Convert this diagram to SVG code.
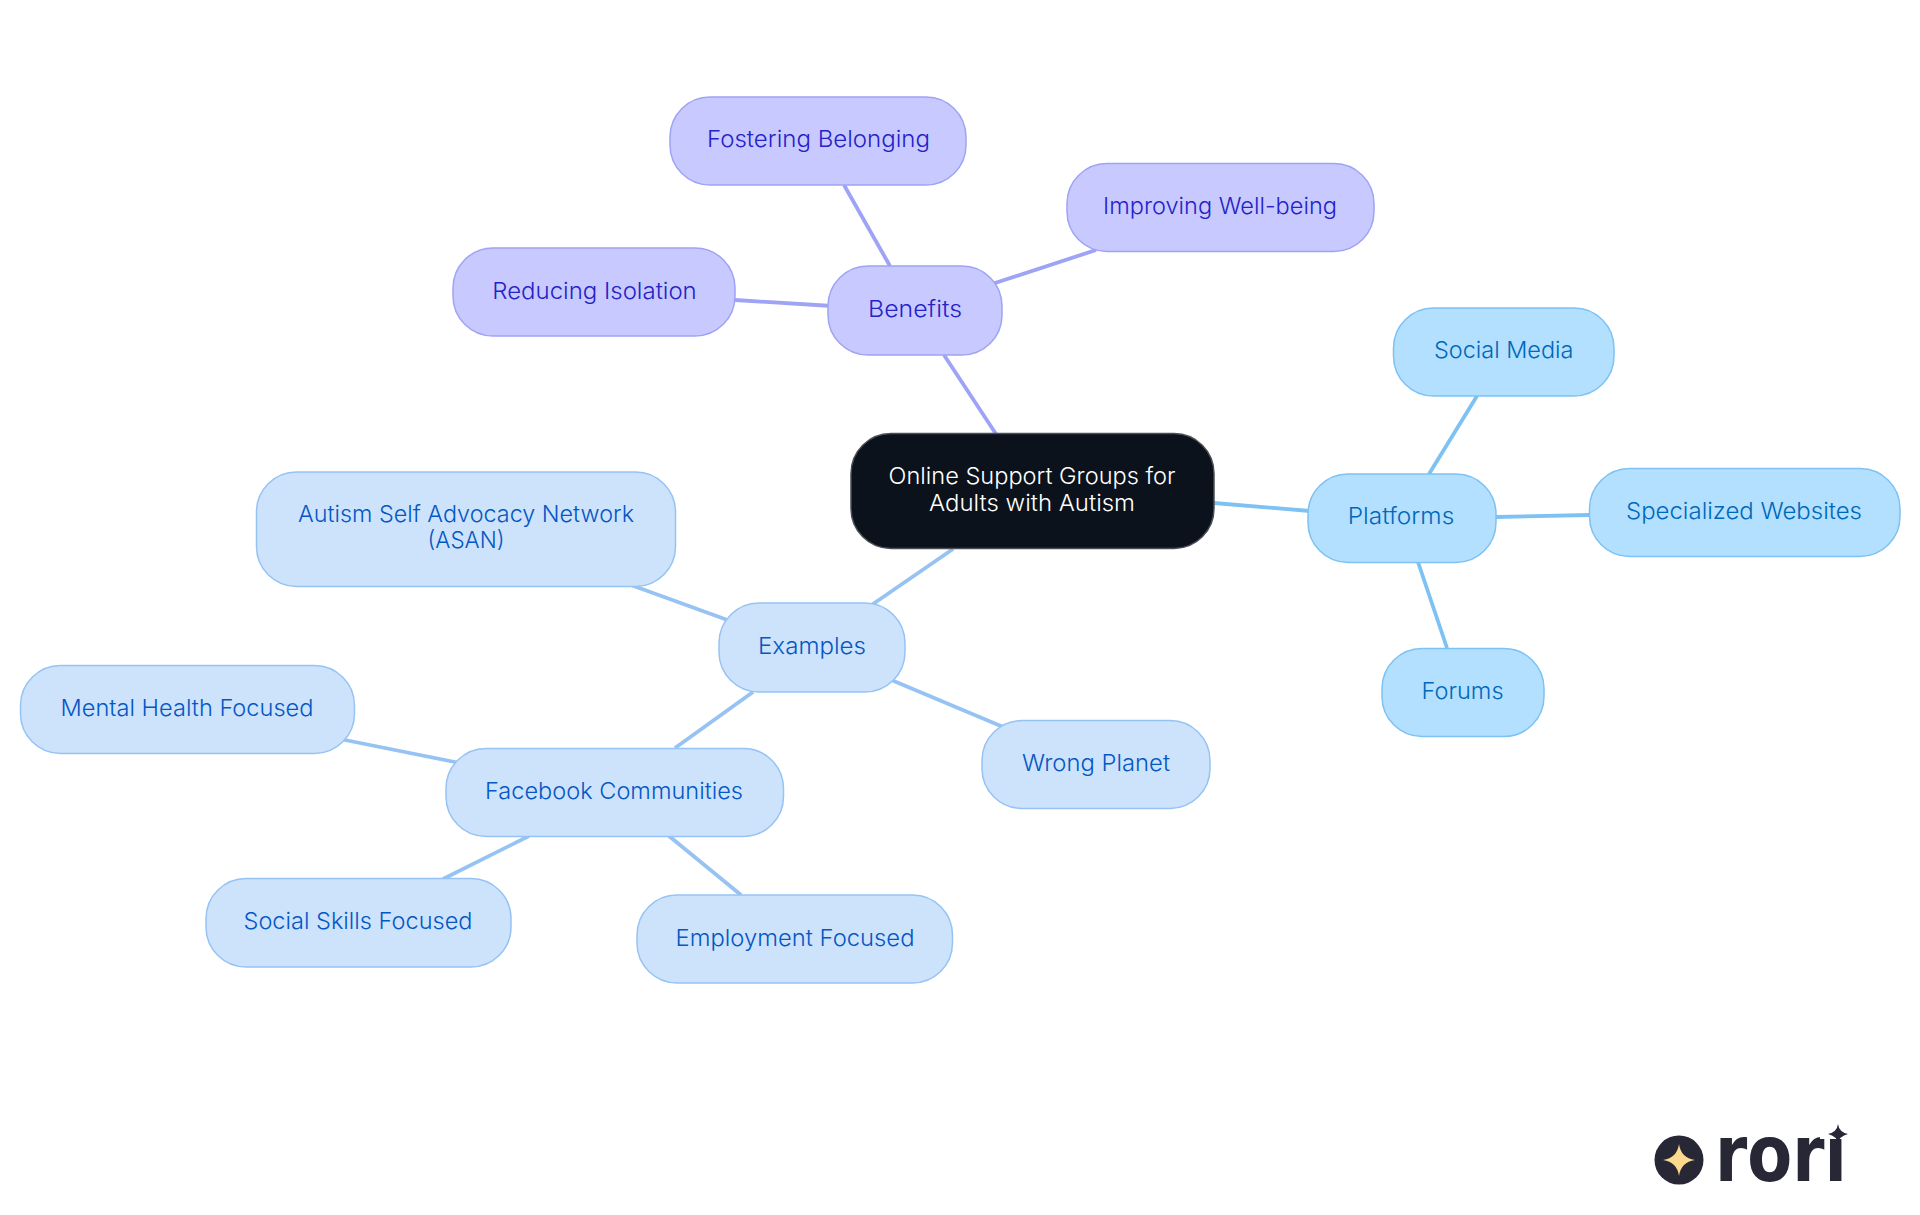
<svg xmlns="http://www.w3.org/2000/svg" width="1920" height="1215" viewBox="0 0 1920 1215">
<style>
text{font-family:"Inter","Noto Sans","Liberation Sans",sans-serif;font-size:23.2px;text-anchor:middle;font-weight:300}
#connectors line{stroke-width:3.8;fill:none}
.p line{stroke:#7ec1f3}.b line{stroke:#9ea3f5}.e line{stroke:#96c3f3}
rect{stroke-width:1.5}
.P rect{fill:#b3e0ff;stroke:#7ec1f3}.P text{fill:#0068ba}
.B rect{fill:#c8caff;stroke:#9ea3f5}.B text{fill:#2522c8}
.E rect{fill:#cde3fc;stroke:#96c3f3}.E text{fill:#0557c4}
</style>
<rect width="1920" height="1215" fill="#fff" stroke="none"/>
<g id="connectors">
<g class="b">
<line x1="944" y1="355" x2="996" y2="434"/><line x1="844" y1="185" x2="890" y2="266"/><line x1="1096" y1="250" x2="992" y2="284"/><line x1="735" y1="300" x2="832" y2="306"/>
</g>
<g class="p">
<line x1="1214" y1="503" x2="1310" y2="511"/><line x1="1477" y1="396" x2="1429" y2="474"/><line x1="1496" y1="517" x2="1589" y2="515"/><line x1="1418" y1="562" x2="1447" y2="648"/>
</g>
<g class="e">
<line x1="953" y1="549" x2="873" y2="604"/><line x1="631" y1="585" x2="733" y2="622"/><line x1="889" y1="679" x2="1008" y2="729"/><line x1="753" y1="692" x2="675" y2="748"/><line x1="340" y1="739" x2="460" y2="763"/><line x1="529" y1="836" x2="443" y2="879"/><line x1="669" y1="836" x2="741" y2="895"/>
</g>
</g>
<g id="root"><rect x="851" y="433.500" width="363" height="115" rx="40" fill="#0b121b" stroke="#4a4f56"/><text x="1032" y="484" fill="#fff" textLength="287" lengthAdjust="spacingAndGlyphs">Online Support Groups for</text><text x="1032" y="511" fill="#fff" textLength="206" lengthAdjust="spacingAndGlyphs">Adults with Autism</text></g>
<g id="benefits" class="B"><rect x="828" y="266" width="174" height="89" rx="40"/><text x="915" y="317" textLength="94" lengthAdjust="spacingAndGlyphs">Benefits</text></g>
<g id="fostering" class="B"><rect x="670" y="97" width="296" height="88" rx="40"/><text x="818.500" y="147" textLength="223" lengthAdjust="spacingAndGlyphs">Fostering Belonging</text></g>
<g id="improving" class="B"><rect x="1067" y="163.500" width="307" height="88" rx="40"/><text x="1220" y="214" textLength="234" lengthAdjust="spacingAndGlyphs">Improving Well-being</text></g>
<g id="reducing" class="B"><rect x="453" y="248" width="282" height="88" rx="40"/><text x="594.500" y="299" textLength="204.500" lengthAdjust="spacingAndGlyphs">Reducing Isolation</text></g>
<g id="platforms" class="P"><rect x="1308" y="474" width="188" height="88.500" rx="40"/><text x="1401" y="524" textLength="106.500" lengthAdjust="spacingAndGlyphs">Platforms</text></g>
<g id="social-media" class="P"><rect x="1393.500" y="308" width="220.500" height="88" rx="40"/><text x="1503.700" y="358" textLength="139.600" lengthAdjust="spacingAndGlyphs">Social Media</text></g>
<g id="websites" class="P"><rect x="1589.500" y="468.500" width="310.500" height="88" rx="40"/><text x="1744" y="519" textLength="236" lengthAdjust="spacingAndGlyphs">Specialized Websites</text></g>
<g id="forums" class="P"><rect x="1382" y="648.500" width="162" height="88" rx="40"/><text x="1462.600" y="699" textLength="82" lengthAdjust="spacingAndGlyphs">Forums</text></g>
<g id="examples" class="E"><rect x="719" y="603" width="186" height="89" rx="40"/><text x="812" y="654" textLength="108" lengthAdjust="spacingAndGlyphs">Examples</text></g>
<g id="asan" class="E"><rect x="256.500" y="472" width="419" height="114.500" rx="40"/><text x="466" y="522" textLength="336" lengthAdjust="spacingAndGlyphs">Autism Self Advocacy Network</text><text x="466" y="548" textLength="77" lengthAdjust="spacingAndGlyphs">(ASAN)</text></g>
<g id="wrong-planet" class="E"><rect x="982" y="720.500" width="228" height="88" rx="40"/><text x="1096" y="771" textLength="148" lengthAdjust="spacingAndGlyphs">Wrong Planet</text></g>
<g id="facebook" class="E"><rect x="446" y="748.500" width="337.500" height="88" rx="40"/><text x="614" y="799" textLength="258" lengthAdjust="spacingAndGlyphs">Facebook Communities</text></g>
<g id="mental" class="E"><rect x="20.500" y="665.500" width="334" height="88" rx="40"/><text x="187" y="716" textLength="253" lengthAdjust="spacingAndGlyphs">Mental Health Focused</text></g>
<g id="skills" class="E"><rect x="206" y="878.500" width="305" height="88.500" rx="40"/><text x="358" y="929" textLength="229" lengthAdjust="spacingAndGlyphs">Social Skills Focused</text></g>
<g id="employment" class="E"><rect x="637" y="895" width="315.500" height="88" rx="40"/><text x="795" y="946" textLength="239" lengthAdjust="spacingAndGlyphs">Employment Focused</text></g>
<g id="logo">
<circle cx="1679" cy="1160" r="24.500" fill="#272735"/>
<path d="M1679 1144Q1681 1158 1695 1160Q1681 1162 1679 1176Q1677 1162 1663 1160Q1677 1158 1679 1144Z" fill="#fcd98c"/>
<text x="1781" y="1181" style="font-family:'DejaVu Sans',sans-serif;font-weight:700;font-size:78px" fill="#272735" textLength="132" lengthAdjust="spacingAndGlyphs">rori</text>
<rect x="1820" y="1115" width="32" height="24" fill="#fff" stroke="none"/>
<path d="M1838 1124Q1839 1132 1848 1134Q1839 1136 1838 1144Q1837 1136 1828 1134Q1837 1132 1838 1124Z" fill="#272735"/>
</g>
</svg>
